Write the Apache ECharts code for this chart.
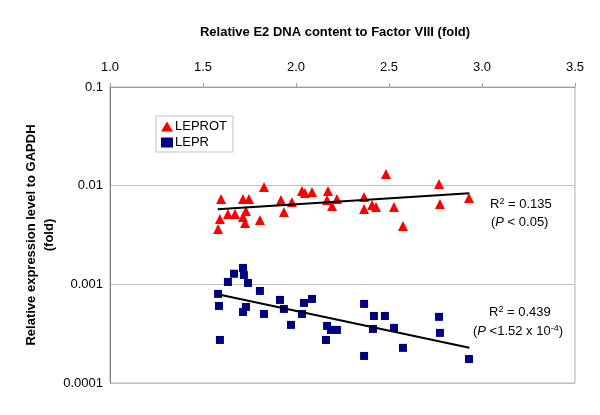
<!DOCTYPE html>
<html>
<head>
<meta charset="utf-8">
<script src="https://cdn.jsdelivr.net/npm/echarts@6/dist/echarts.min.js"></script>
<style>
  html, body { margin: 0; padding: 0; background: #fff; }
  #chart { width: 600px; height: 415px; }
</style>
</head>
<body>
<div id="chart"></div>
<script>
// LEPROT (red triangles): x = E2 DNA fold, y = expression vs GAPDH
const leprotX = [1.597, 1.828, 1.715, 1.747, 1.634, 1.672, 1.591, 1.581, 1.731, 1.715, 1.726,
  1.806, 1.919, 1.935, 1.978, 2.032, 2.048, 2.086, 2.172, 2.167, 2.220, 2.194, 2.366, 2.366,
  2.409, 2.430, 2.527, 2.575, 2.484, 2.769, 2.774, 2.930]
const leprotY = [0.00733, 0.0097, 0.00733, 0.00733, 0.00517, 0.00517, 0.0046, 0.00364, 0.00554,
  0.00482, 0.00419, 0.00449, 0.00716, 0.00542, 0.00684, 0.00884, 0.00843, 0.00863, 0.00884,
  0.00716, 0.00733, 0.00623, 0.00769, 0.00581, 0.00637, 0.00608, 0.00608, 0.00391, 0.01315,
  0.0104, 0.00653, 0.0075]

// LEPR (navy squares)
const leprX = [1.581, 1.586, 1.591, 1.634, 1.667, 1.715, 1.720, 1.742, 1.731, 1.715, 1.806,
  1.828, 1.914, 1.935, 1.973, 2.032, 2.043, 2.086, 2.167, 2.188, 2.220, 2.161, 2.366, 2.419,
  2.478, 2.414, 2.527, 2.366, 2.575, 2.769, 2.774, 2.930]
const leprY = [0.0008, 0.000604, 0.000273, 0.001057, 0.00128, 0.001466, 0.001245, 0.001033,
  0.00059, 0.000525, 0.000857, 0.000501, 0.000695, 0.000563, 0.000388, 0.000501, 0.000648,
  0.000711, 0.000379, 0.000345, 0.000345, 0.000273, 0.000633, 0.000478, 0.000478, 0.000353,
  0.000362, 0.000188, 0.000227, 0.000468, 0.000322, 0.000175]

// trend line end points
const leprotTrendX = [1.579, 2.932]
const leprotTrendY = [0.00577, 0.00838]
const leprTrendX = [1.579, 2.932]
const leprTrendY = [0.000794, 0.000228]

const xTicks = [1.0, 1.5, 2.0, 2.5, 3.0, 3.5]
const yTicks = [0.0001, 0.001, 0.01, 0.1]

const zip = (xs, ys) => xs.map((x, i) => [x, ys[i]])
const font = 'Liberation Sans, Arial, sans-serif'

const chart = echarts.init(document.getElementById('chart'))
chart.setOption({
  animation: false,
  grid: {
    left: 110, right: 25, top: 87, bottom: 32,
    show: true, borderColor: '#b0b0b0', borderWidth: 1
  },
  legend: {
    left: 156, top: 116,
    orient: 'vertical',
    borderColor: '#c0c0c0', borderWidth: 1, borderRadius: 0,
    padding: [4, 6, 3, 5],
    itemGap: 3, itemWidth: 12, itemHeight: 10,
    textStyle: { fontFamily: font, fontSize: 13, color: '#000', padding: [0, 0, 0, -3] },
    data: [
      { name: 'LEPROT', icon: 'triangle', itemStyle: { color: '#ff0000', opacity: 1 } },
      { name: 'LEPR', icon: 'rect', itemStyle: { color: '#000080', opacity: 1 } }
    ]
  },
  xAxis: {
    type: 'value',
    position: 'top',
    min: xTicks[0], max: xTicks[xTicks.length - 1], interval: 0.5,
    name: 'Relative E2 DNA content to Factor VIII (fold)',
    nameLocation: 'middle', nameGap: 48,
    nameTextStyle: { fontFamily: font, fontSize: 13, fontWeight: 'bold', color: '#000', padding: [0, 15, 0, 0] },
    axisLine: { lineStyle: { color: '#a0a0a0' } },
    axisTick: { show: true, length: 4, lineStyle: { color: '#a0a0a0' } },
    axisLabel: { fontFamily: font, fontSize: 13, color: '#000', margin: 13, formatter: v => v.toFixed(1) },
    splitLine: { show: false }
  },
  yAxis: {
    type: 'log', logBase: 10,
    min: yTicks[0], max: yTicks[yTicks.length - 1],
    name: 'Relative expression level to GAPDH\n(fold)',
    nameLocation: 'middle', nameGap: 52, nameRotate: 90,
    nameMoveOverlap: false,
    nameTextStyle: { fontFamily: font, fontSize: 13, fontWeight: 'bold', color: '#000', lineHeight: 18 },
    axisLine: { show: true, lineStyle: { color: '#808080' } },
    axisTick: { show: false },
    minorTick: { show: false },
    axisLabel: { fontFamily: font, fontSize: 13, color: '#000', margin: 7, formatter: v => String(Number(v.toPrecision(2))) },
    splitLine: { show: true, lineStyle: { color: '#c0c0c0' } }
  },
  series: [
    {
      name: 'LEPROT', type: 'scatter', symbol: 'triangle', symbolSize: 10,
      itemStyle: { color: '#ff0000', opacity: 1 },
      data: zip(leprotX, leprotY), z: 3
    },
    {
      name: 'LEPR', type: 'scatter', symbol: 'rect', symbolSize: 8,
      itemStyle: { color: '#000080', opacity: 1 },
      data: zip(leprX, leprY), z: 3
    },
    {
      type: 'line', data: zip(leprotTrendX, leprotTrendY), symbol: 'none',
      lineStyle: { color: '#000', width: 2 }, z: 4, silent: true
    },
    {
      type: 'line', data: zip(leprTrendX, leprTrendY), symbol: 'none',
      lineStyle: { color: '#000', width: 2 }, z: 4, silent: true
    }
  ],
  graphic: [
    {
      type: 'text', left: 490, top: 197,
      style: {
        text: 'R{s|2} = 0.135', fontFamily: font, fontSize: 13, fill: '#000',
        rich: { s: { fontSize: 9, verticalAlign: 'top', padding: [0, 0, 6, 0], fontFamily: font } }
      }
    },
    {
      type: 'text', left: 491, top: 216,
      style: {
        text: '({i|P} < 0.05)', fontFamily: font, fontSize: 13, fill: '#000',
        rich: { i: { fontStyle: 'italic', fontSize: 13, fontFamily: font } }
      }
    },
    {
      type: 'text', left: 489, top: 305,
      style: {
        text: 'R{s|2} = 0.439', fontFamily: font, fontSize: 13, fill: '#000',
        rich: { s: { fontSize: 9, verticalAlign: 'top', padding: [0, 0, 6, 0], fontFamily: font } }
      }
    },
    {
      type: 'text', left: 473, top: 324,
      style: {
        text: '({i|P} <1.52 x 10{s|-4})', fontFamily: font, fontSize: 13, fill: '#000',
        rich: {
          i: { fontStyle: 'italic', fontSize: 13, fontFamily: font },
          s: { fontSize: 9, verticalAlign: 'top', padding: [0, 0, 6, 0], fontFamily: font }
        }
      }
    }
  ]
})
</script>
</body>
</html>
